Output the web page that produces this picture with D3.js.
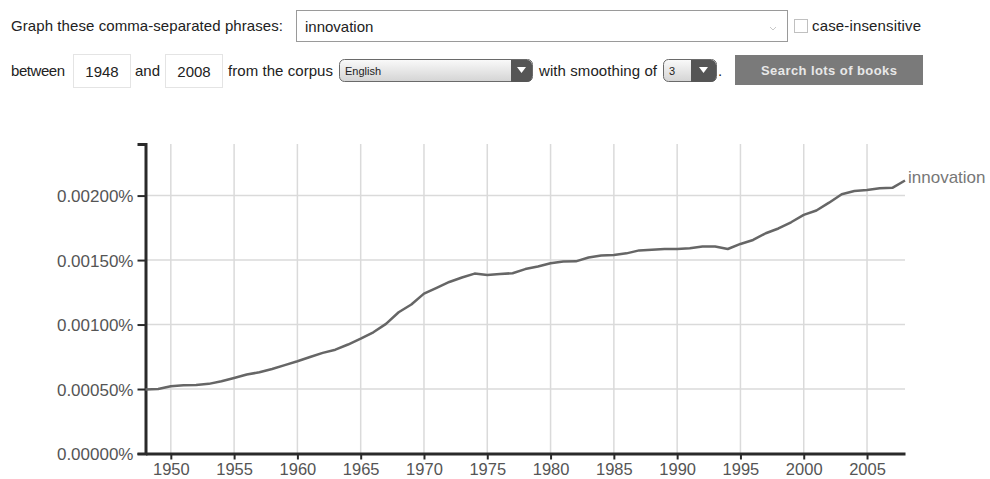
<!DOCTYPE html>
<html>
<head>
<meta charset="utf-8">
<script src="https://cdn.jsdelivr.net/npm/d3@7"></script>
<style>
  body { margin: 0; background: #fff; }
  svg text { font-family: "Liberation Sans", Arial, sans-serif; }
</style>
</head>
<body>
<div id="vis"></div>
<script>
const width = 990;
const height = 479;

// ngram frequency of "innovation", in percent of all words
const years = d3.range(1948, 2009);
const values = [
	0.000497, 0.000500, 0.000522, 0.000530, 0.000532, 0.000540, 0.000560, 0.000585,
	0.000612, 0.000630, 0.000655, 0.000685, 0.000715, 0.000748, 0.000780, 0.000805,
	0.000845, 0.000890, 0.000940, 0.001005, 0.001095, 0.001155, 0.001240, 0.001285,
	0.001330, 0.001365, 0.001395, 0.001385, 0.001392, 0.001398, 0.001430, 0.001450,
	0.001475, 0.001488, 0.001490, 0.001520, 0.001535, 0.001540, 0.001552, 0.001575,
	0.001580, 0.001585, 0.001585, 0.001592, 0.001605, 0.001605, 0.001586, 0.001625,
	0.001656, 0.001708, 0.001745, 0.001793, 0.001850, 0.001884, 0.001945, 0.002011,
	0.002036, 0.002044, 0.002057, 0.002060, 0.002117
];
const seriesName = "innovation";
const yTicks = [0, 0.0005, 0.001, 0.0015, 0.002];
const xTicks = d3.range(1950, 2008, 5);

const data = years.map((y, i) => ({ year: y, value: values[i] }));

const svg = d3.select("#vis")
	.append("svg")
		.attr("width", width)
		.attr("height", height);

// ---- form row 1 ----
const form = svg.append("g").attr("fill", "#222").style("font-size", "15px");

form.append("text")
	.attr("x", 11).attr("y", 31)
	.attr("textLength", 272)
	.text("Graph these comma-separated phrases:");

form.append("rect")
	.attr("x", 296.5).attr("y", 10.5)
	.attr("width", 491).attr("height", 31)
	.attr("fill", "#fff").attr("stroke", "#9a9a9a");
form.append("text")
	.attr("x", 305).attr("y", 32)
	.text(seriesName);
form.append("path")
	.attr("d", "M770,27 l3,3 l3,-3")
	.attr("fill", "none").attr("stroke", "#c8c8c8");

form.append("rect")
	.attr("x", 794.5).attr("y", 19.5)
	.attr("width", 13).attr("height", 13)
	.attr("fill", "#fff").attr("stroke", "#c0c0c0");
form.append("text")
	.attr("x", 812).attr("y", 31)
	.attr("textLength", 109)
	.text("case-insensitive");

// ---- form row 2 ----
form.append("text").attr("x", 11).attr("y", 76).attr("textLength", 54).text("between");
form.append("rect")
	.attr("x", 73.5).attr("y", 54.5).attr("width", 57).attr("height", 33)
	.attr("fill", "#fff").attr("stroke", "#e4e4e4");
form.append("text").attr("x", 102).attr("y", 77).attr("text-anchor", "middle").text("1948");
form.append("text").attr("x", 135).attr("y", 76).attr("textLength", 25).text("and");
form.append("rect")
	.attr("x", 165.5).attr("y", 54.5).attr("width", 57).attr("height", 33)
	.attr("fill", "#fff").attr("stroke", "#e4e4e4");
form.append("text").attr("x", 194).attr("y", 77).attr("text-anchor", "middle").text("2008");
form.append("text").attr("x", 228).attr("y", 76).attr("textLength", 105).text("from the corpus");

const grad = svg.append("defs").append("linearGradient")
	.attr("id", "selgrad").attr("x1", 0).attr("x2", 0).attr("y1", 0).attr("y2", 1);
grad.append("stop").attr("offset", "0%").attr("stop-color", "#fafafa");
grad.append("stop").attr("offset", "100%").attr("stop-color", "#d4d4d4");

function selectBox (x, w, btnW, label) {
	const g = form.append("g");
	g.append("rect")
		.attr("x", x + 0.5).attr("y", 59.5).attr("width", w).attr("height", 22).attr("rx", 5)
		.attr("fill", "url(#selgrad)").attr("stroke", "#6a6a6a");
	g.append("path")
		.attr("d", `M${x + w - btnW},60 h${btnW - 5} a5,5 0 0 1 5,5 v12 a5,5 0 0 1 -5,5 h-${btnW - 5} z`)
		.attr("fill", "#555");
	g.append("path")
		.attr("d", `M${x + w - btnW / 2 - 4.5},67 h9 l-4.5,6 z`)
		.attr("fill", "#fff");
	g.append("text")
		.attr("x", x + 6).attr("y", 75)
		.style("font-size", "11px").attr("fill", "#222")
		.text(label);
}
selectBox(339, 193, 21, "English");
form.append("text").attr("x", 539).attr("y", 76).attr("textLength", 118).text("with smoothing of");
selectBox(663, 53, 25, "3");
form.append("text").attr("x", 718).attr("y", 76).text(".");

form.append("rect")
	.attr("x", 735).attr("y", 55).attr("width", 188).attr("height", 30)
	.attr("fill", "#7a7a7a");
form.append("text")
	.attr("x", 829).attr("y", 75)
	.attr("text-anchor", "middle")
	.attr("fill", "#e8e8e8")
	.style("font-size", "13px").style("font-weight", "bold")
	.attr("textLength", 136)
	.text("Search lots of books");

// ---- chart ----
const x = d3.scaleLinear().domain([1948, 2008]).range([145.5, 905]);
const y = d3.scaleLinear().domain([0, 0.0024]).range([453.5, 144]);

const chart = svg.append("g");

chart.append("g")
	.selectAll("line")
	.data(xTicks)
	.join("line")
		.attr("x1", d => x(d)).attr("x2", d => x(d))
		.attr("y1", y.range()[1]).attr("y2", y(0))
		.attr("stroke", "#dadada").attr("stroke-width", 1.5);

chart.append("g")
	.selectAll("line")
	.data(yTicks.slice(1))
	.join("line")
		.attr("x1", x(1948)).attr("x2", x(2008))
		.attr("y1", d => y(d)).attr("y2", d => y(d))
		.attr("stroke", "#dadada").attr("stroke-width", 1.5);

const fmt = d => d.toFixed(5) + "%";

const yAxis = chart.append("g")
	.attr("transform", `translate(${x(1948)},0)`)
	.call(d3.axisLeft(y).tickValues(yTicks).tickFormat(fmt).tickSize(8).tickSizeOuter(8).tickPadding(4));

const xAxis = chart.append("g")
	.attr("transform", `translate(0,${y(0)})`)
	.call(d3.axisBottom(x).tickValues(xTicks).tickFormat(d3.format("d")).tickSize(6).tickSizeOuter(0).tickPadding(3));

[yAxis, xAxis].forEach(a => {
	a.select(".domain").attr("stroke", "#2a2a2a").attr("stroke-width", 3);
	a.selectAll(".tick line").attr("stroke", "#2a2a2a").attr("stroke-width", 2);
	a.selectAll(".tick text")
		.attr("fill", "#555")
		.style("font-size", "17px")
		.style("font-family", "'Liberation Sans', Arial, sans-serif");
});
yAxis.selectAll(".tick text").attr("dy", "0.36em");
xAxis.selectAll(".tick text")
	.style("font-size", "16.5px")
	.attr("y", 0)
	.attr("dy", 0)
	.attr("transform", "translate(0,21)");

const line = d3.line()
	.x(d => x(d.year))
	.y(d => y(d.value));

chart.append("path")
	.datum(data)
	.attr("d", line)
	.attr("fill", "none")
	.attr("stroke", "#666")
	.attr("stroke-width", 2.5)
	.attr("stroke-linejoin", "round");

const last = data[data.length - 1];
chart.append("text")
	.attr("x", x(last.year) + 3)
	.attr("y", y(last.value) - 3)
	.attr("dy", "0.35em")
	.attr("fill", "#777")
	.style("font-size", "17px")
	.text(seriesName);
</script>
</body>
</html>
